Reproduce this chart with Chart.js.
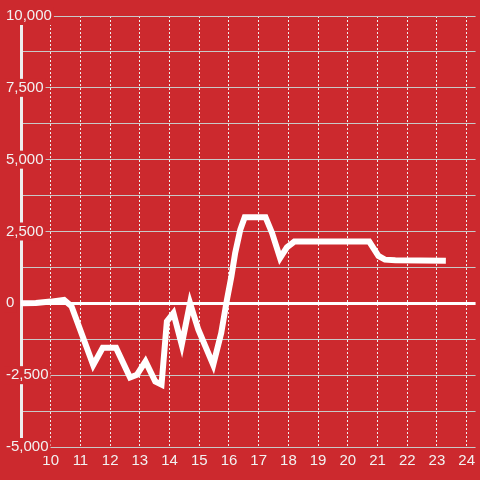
<!DOCTYPE html>
<html>
<head>
<meta charset="utf-8">
<script src="https://cdn.jsdelivr.net/npm/chart.js@4.4.1/dist/chart.umd.min.js"></script>
<style>
  html, body { margin: 0; padding: 0; background: #cc292e; }
  #wrap { width: 480px; height: 480px; }
</style>
</head>
<body>
<div id="wrap"><canvas id="c" width="480" height="480"></canvas></div>
<script>
// ---- data ----
const hours = [8.9, 9.5, 10.0, 10.45, 10.7, 11.43, 11.75, 12.2, 12.67, 12.9, 13.19, 13.52, 13.73, 13.91, 14.13, 14.41, 14.69, 14.97, 15.47, 15.74, 15.93, 16.08, 16.21, 16.38, 16.53, 17.23, 17.45, 17.72, 17.95, 18.2, 20.72, 21.03, 21.25, 21.6, 23.3];
const values = [0, 10, 60, 120, -100, -2150, -1550, -1550, -2580, -2490, -2020, -2720, -2830, -630, -340, -1440, 10, -920, -2140, -1030, 120, 930, 1760, 2560, 3000, 3000, 2450, 1580, 1950, 2150, 2150, 1650, 1520, 1500, 1480];
const xTickValues = [10, 11, 12, 13, 14, 15, 16, 17, 18, 19, 20, 21, 22, 23, 24];
const yGridValues = [-5000, -3750, -2500, -1250, 0, 1250, 2500, 3750, 5000, 6250, 7500, 8750, 10000];
const yLabelValues = [-5000, -2500, 0, 2500, 5000, 7500, 10000];
const xMin = 9, xMax = 24.3, yMin = -5000, yMax = 10000;

const BG = '#cc292e';
const FAMILY = '"Liberation Sans", Arial, sans-serif';
const FONT = { family: FAMILY, size: 15 };

const bgPlugin = {
  id: 'bg',
  beforeDraw(chart) {
    const ctx = chart.ctx;
    ctx.save();
    ctx.fillStyle = BG;
    ctx.fillRect(0, 0, chart.width, chart.height);
    ctx.restore();
  }
};

new Chart(document.getElementById('c'), {
  type: 'line',
  data: {
    datasets: [{
      data: hours.map((h, i) => ({ x: h, y: values[i] })),
      borderColor: '#ffffff',
      borderWidth: 6,
      pointRadius: 0,
      tension: 0,
      borderJoinStyle: 'miter',
      fill: false
    }]
  },
  options: {
    responsive: false,
    animation: false,
    devicePixelRatio: 1,
    layout: { padding: { left: 0, top: 16, right: 0, bottom: 0 } },
    plugins: { legend: { display: false }, tooltip: { enabled: false } },
    scales: {
      x: {
        type: 'linear',
        min: xMin, max: xMax,
        afterBuildTicks: s => { s.ticks = xTickValues.map(v => ({ value: v })); },
        afterFit: s => { s.height = 33; },
        ticks: { color: '#f2f2f2', font: FONT, padding: 5, maxRotation: 0, autoSkip: false, callback: v => String(v) },
        grid: { color: '#eeeeee', lineWidth: 1, drawTicks: false },
        border: { display: false, dash: [2, 2] }
      },
      y: {
        type: 'linear',
        min: yMin, max: yMax,
        afterBuildTicks: s => { s.ticks = yGridValues.map(v => ({ value: v })); },
        afterFit: s => { s.width = 21; },
        ticks: {
          color: '#f2f2f2', font: FONT, mirror: true, crossAlign: 'near', padding: -15, autoSkip: false,
          callback: v => yLabelValues.includes(v) ? v.toLocaleString('en-US') : '',
          showLabelBackdrop: true,
          backdropColor: ctx => (ctx.tick && yLabelValues.includes(ctx.tick.value)) ? BG : 'rgba(0,0,0,0)',
          backdropPadding: { left: 2, right: 2, top: 0, bottom: 0 }
        },
        grid: {
          color: ctx => (ctx.tick && ctx.tick.value === 0) ? '#ffffff' : '#c8c8c8',
          lineWidth: ctx => (ctx.tick && ctx.tick.value === 0) ? 3 : 1,
          drawTicks: false
        },
        border: { display: true, color: '#eeeeee', width: 3 }
      }
    }
  },
  plugins: [bgPlugin]
});
</script>
</body>
</html>
